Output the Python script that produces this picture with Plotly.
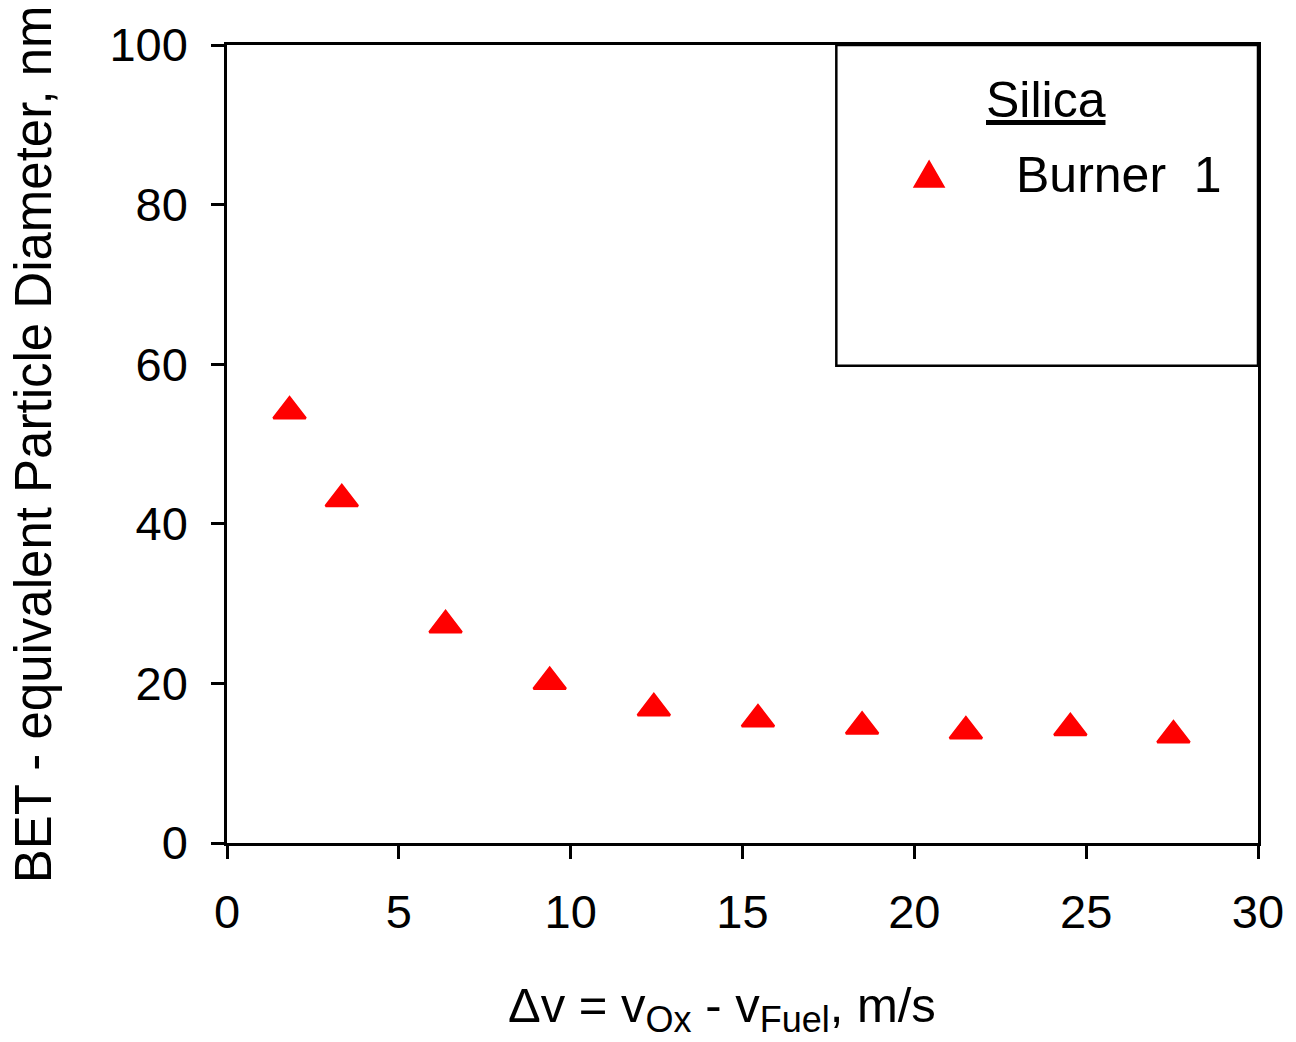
import plotly.graph_objects as go

# Measured particle size vs. velocity difference
delta_v = [1.82, 3.34, 6.36, 9.39, 12.42, 15.45, 18.48, 21.50, 24.54, 27.54]
diameter = [54.1, 43.1, 27.3, 20.2, 16.9, 15.5, 14.6, 14.0, 14.4, 13.5]

series_name = "Burner\u00a0\u00a01"
legend_heading = "Silica"
x_tick_vals = [0, 5, 10, 15, 20, 25, 30]
y_tick_vals = [0, 20, 40, 60, 80, 100]

x_title = ("\u0394v = v<sub><span style='font-size:36px'>Ox</span></sub> - "
           "v<sub><span style='font-size:36px'>Fuel</span></sub>, m/s")
y_title = "BET - equivalent Particle Diameter, nm"

FONT = "Liberation Sans, Arial, sans-serif"
RED = "#ff0000"
LINE_W = 2.5

fig = go.Figure()
fig.add_trace(go.Scatter(
    x=delta_v, y=diameter, mode="markers", name=series_name,
    marker=dict(symbol="triangle-up", size=28, color=RED,
                line=dict(color=RED, width=2.5)),
    showlegend=False,
))

axis_common = dict(
    ticks="outside", ticklen=13, tickwidth=LINE_W, tickcolor="black",
    showline=True, linewidth=LINE_W, linecolor="black", mirror=True,
    showgrid=False, zeroline=False,
    tickfont=dict(family=FONT, size=47, color="black"),
)

fig.update_xaxes(range=[0, 30], tickvals=x_tick_vals, ticklabelstandoff=13,
                 **axis_common)
fig.update_yaxes(range=[0, 100], tickvals=y_tick_vals, ticklabelstandoff=14,
                 **axis_common)

# Legend frame, heading, key and label
legend_box = dict(x0=0.591, x1=1.0, y0=0.598, y1=1.0)
fig.add_shape(type="rect", xref="paper", yref="paper",
              line=dict(color="black", width=LINE_W), fillcolor="rgba(0,0,0,0)",
              **legend_box)
fig.add_shape(type="path", xref="paper", yref="paper",
              xsizemode="pixel", ysizemode="pixel",
              xanchor=0.681, yanchor=0.837,
              path="M-15,-12 L15,-12 L0,14 Z",
              fillcolor=RED, line=dict(color=RED, width=1.5))

annotations = [
    dict(text=f"<u>{legend_heading}</u>", x=0.794, y=0.931,
         xanchor="center", yanchor="middle", size=50),
    dict(text=series_name, x=0.763, y=0.837, xanchor="left", yanchor="middle",
         size=50),
    dict(text=x_title, x=0.2705, y=-0.2075, xanchor="left", yanchor="middle",
         size=49),
    dict(text=y_title, x=-0.188, y=0.5, xanchor="center", yanchor="middle",
         textangle=-90, size=51),
]
for a in annotations:
    size = a.pop("size")
    fig.add_annotation(xref="paper", yref="paper", showarrow=False,
                       font=dict(family=FONT, size=size, color="black"), **a)

fig.update_layout(
    width=1296, height=1042,
    margin=dict(l=227, r=31, t=45, b=199),
    paper_bgcolor="white", plot_bgcolor="white",
    font=dict(family=FONT, color="black"),
)

fig.write_html("out.html")
